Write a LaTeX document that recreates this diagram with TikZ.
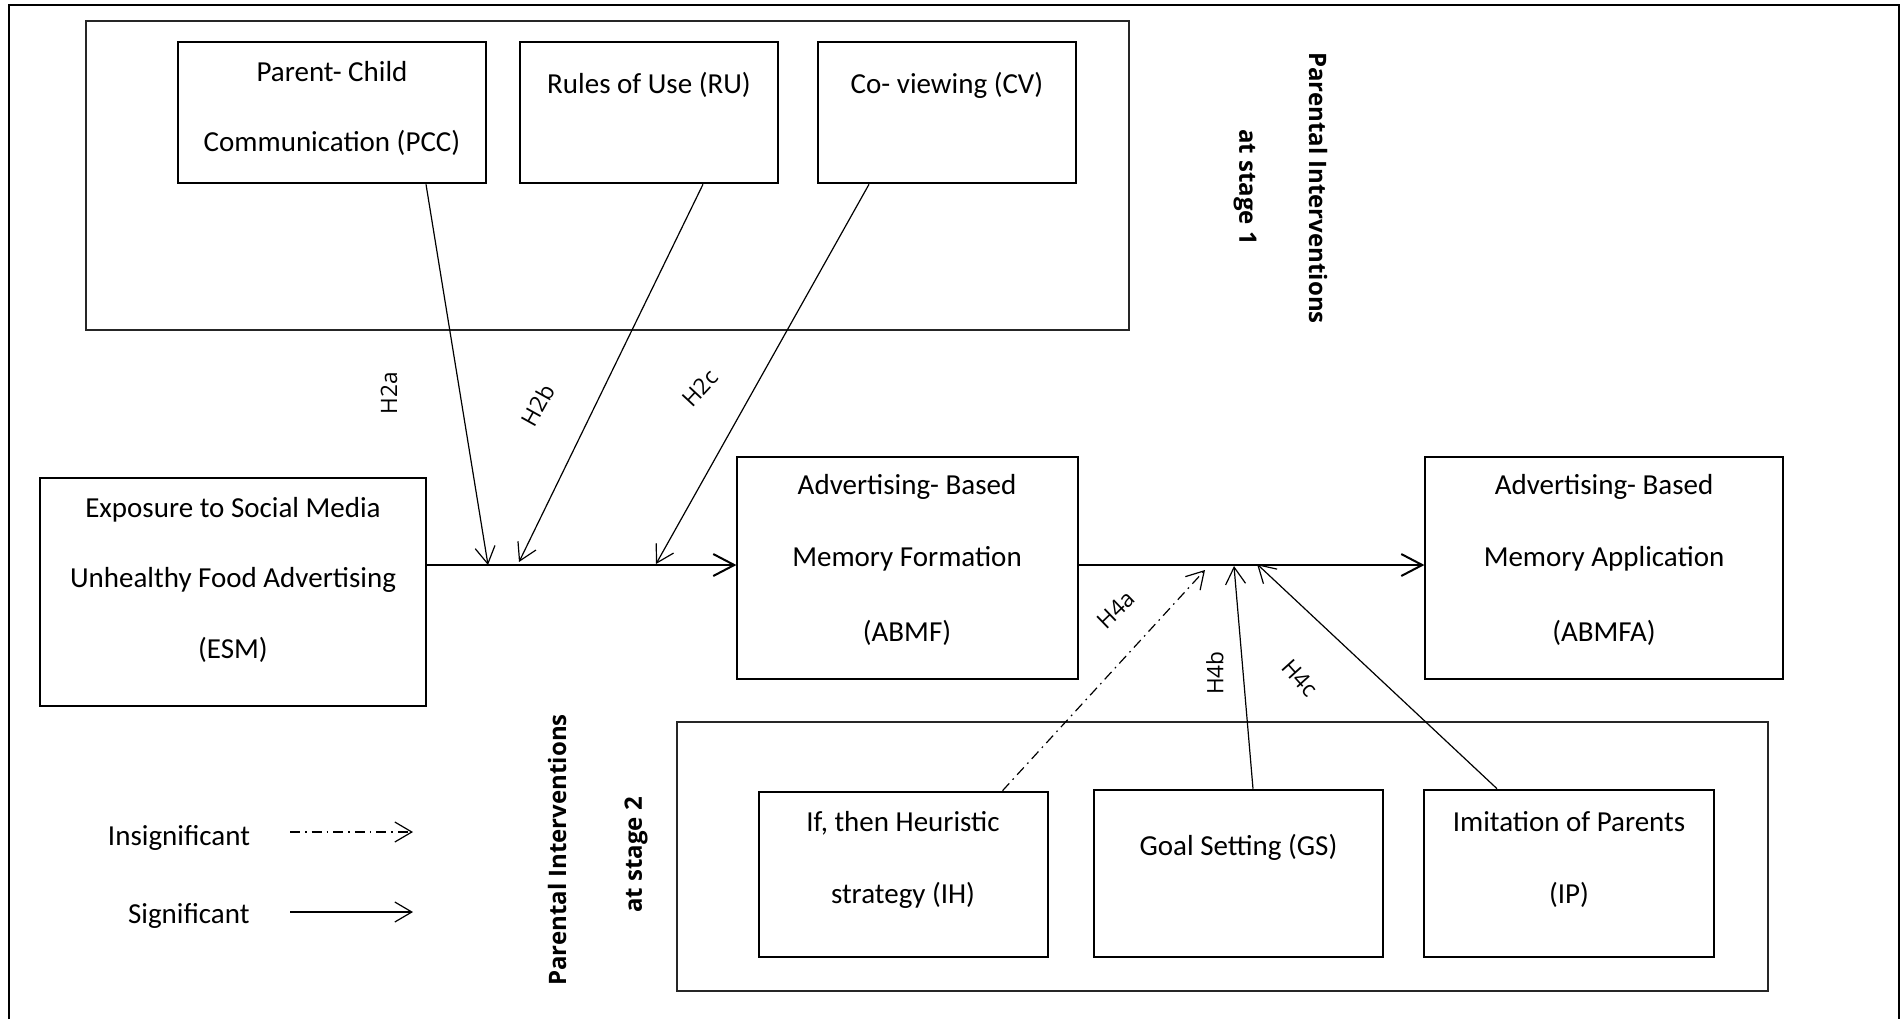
\documentclass[tikz,border=0pt]{standalone}
\usepackage{fontspec}
\setmainfont{Carlito}
\newfontfamily\hfont{Open Sans}
\newfontfamily\stagefont{Open Sans}
\usetikzlibrary{arrows.meta,calc,fit}
\begin{document}
\begin{tikzpicture}[x=0.5pt,y=-0.5pt,
  grp/.style={draw=black!85,line width=0.6pt,inner sep=0pt},
  ibox/.style={draw,line width=1.3pt,inner sep=0pt},
  obox/.style={draw,line width=0.6pt,inner sep=0pt},
  txt/.style={font=\fontsize{14.5}{17}\selectfont,inner sep=0pt},
  hl/.style={font=\hfont\fontsize{11.3}{13}\selectfont,inner sep=0pt},
  stg/.style={font=\stagefont\bfseries\fontsize{12}{14}\selectfont,inner sep=0pt},
  conn/.style={line width=0.6pt,-{Straight Barb[length=8.5pt,width=10pt]}},
  mainarr/.style={line width=1pt,-{Straight Barb[length=10.5pt,width=11pt]}},
  dd/.style={dash pattern=on 5pt off 2.5pt on 0.8pt off 2.5pt}
]
\useasboundingbox (0,0) rectangle (1901,1019);
% outer frame
\draw[line width=1.1pt] (9,1019) -- (9,5) -- (1899,5) -- (1899,1019);

% stage 1 group
\node[grp,fit={(86,21) (1129,330)}] (g1) {};
\node[ibox,fit={(178,42) (486,183)}] (pcc) {};
\node[ibox,fit={(520,42) (778,183)}] (ru) {};
\node[ibox,fit={(818,42) (1076,183)}] (cv) {};
\node[txt] (pcct1) at (332,72) {Parent- Child};
\node[txt] (pcct2) at (332,143) {Communication (PCC)};
\node[txt] (rut) at (649,85) {Rules of Use (RU)};
\node[txt] (cvt) at (947,85) {Co- viewing (CV)};
\node[stg,rotate=-90] (st1a) at (1318,188) {Parental Interventions};
\node[stg,rotate=-90] (st1b) at (1245,187) {at stage 1};

% main boxes
\node[obox,fit={(40,478) (426,706)}] (esm) {};
\node[txt] (esmt1) at (233,510) {Exposure to Social Media};
\node[txt] (esmt2) at (233,580) {Unhealthy Food Advertising};
\node[txt] (esmt3) at (233,650) {(ESM)};
\node[obox,fit={(737,457) (1078,679)}] (abmf) {};
\node[txt] (abmft1) at (907,487) {Advertising- Based};
\node[txt] (abmft2) at (907,559) {Memory Formation};
\node[txt] (abmft3) at (907,633) {(ABMF)};
\node[obox,fit={(1425,457) (1783,679)}] (abmfa) {};
\node[txt] (abmfat1) at (1604,487) {Advertising- Based};
\node[txt] (abmfat2) at (1604,559) {Memory Application};
\node[txt] (abmfat3) at (1604,633) {(ABMFA)};

% stage 2 group
\node[grp,fit={(677,722) (1768,991)}] (g2) {};
\node[ibox,fit={(759,792) (1048,957)}] (ih) {};
\node[ibox,fit={(1094,790) (1383,957)}] (gs) {};
\node[ibox,fit={(1424,790) (1714,957)}] (ip) {};
\node[txt] (iht1) at (903,823) {If, then Heuristic};
\node[txt] (iht2) at (903,895) {strategy (IH)};
\node[txt] (gst) at (1238.5,847) {Goal Setting (GS)};
\node[txt] (ipt1) at (1569,822) {Imitation of Parents};
\node[txt] (ipt2) at (1569,895) {(IP)};
\node[stg,rotate=90] (st2a) at (557,850) {Parental Interventions};
\node[stg,rotate=90] (st2b) at (636,855) {at stage 2};

% main line
\coordinate (m) at (0,565);
\draw[mainarr] (esm.east |- m) -- (abmf.west |- m);
\draw[mainarr] (abmf.east |- m) -- (abmfa.west |- m);

% stage 1 moderators
\coordinate (t1) at (488,565);
\coordinate (t2) at (519,562);
\coordinate (t3) at (656,564);
\draw[conn] ($(pcc.south)+(94,0)$) -- (t1);
\draw[conn] ($(ru.south)+(54,0)$) -- (t2);
\draw[conn] ($(cv.south)+(-78,0)$) -- (t3);
\node[hl,rotate=90] (h2a) at (389,393) {H2a};
\node[hl,rotate=61] (h2b) at (538,405) {H2b};
\node[hl,rotate=47] (h2c) at (700,388) {H2c};

% stage 2 moderators
\coordinate (u1) at (1205,570);
\coordinate (u2) at (1234,566);
\coordinate (u3) at (1257,564);
\draw[conn,dd] ($(ih.north)+(99,0)$) -- (u1);
\draw[conn] ($(gs.north)+(14.5,0)$) -- (u2);
\draw[conn] ($(ip.north)+(-72,0)$) -- (u3);
\node[hl,rotate=44] (h4a) at (1116,610) {H4a};
\node[hl,rotate=90] (h4b) at (1215,673) {H4b};
\node[hl,rotate=-48] (h4c) at (1300,678) {H4c};

% legend
\node[txt] (lins) at (179,838) {Insignificant};
\node[txt,anchor=east] (lsig) at (250,916) {Significant};
\coordinate (la1) at (290,832);
\coordinate (la2) at (413,832);
\coordinate (lb1) at (290,912);
\coordinate (lb2) at (413,912);
\draw[conn,dd] (la1) -- (la2);
\draw[conn] (lb1) -- (lb2);
\end{tikzpicture}
\end{document}
